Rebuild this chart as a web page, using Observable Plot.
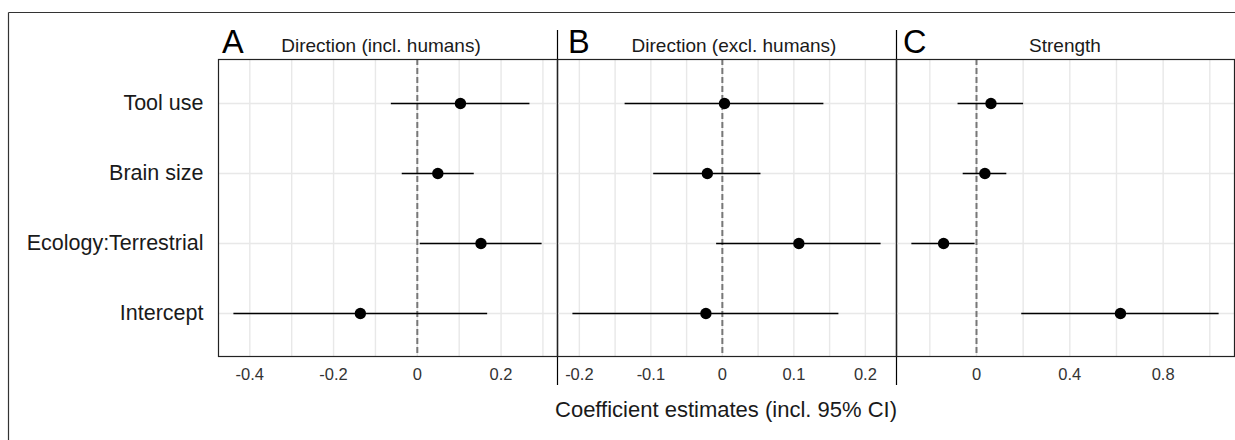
<!DOCTYPE html>
<html><head><meta charset="utf-8">
<script src="https://cdn.jsdelivr.net/npm/d3@7"></script>
<script src="https://cdn.jsdelivr.net/npm/@observablehq/plot@0.6"></script>
<style>
body{margin:0;background:#fff;font-family:"Liberation Sans",Arial,sans-serif;}
#wrap{position:relative;width:1235px;height:440px;overflow:hidden;background:#fff;}
#wrap svg{position:absolute;left:0;top:0;}
</style></head><body><div id="wrap"></div>
<script>
// ---- data ----
const terms = ["Tool use", "Brain size", "Ecology:Terrestrial", "Intercept"];
const panelLetters = ["A", "B", "C"];
const panelTitles = ["Direction (incl. humans)", "Direction (excl. humans)", "Strength"];
const xTitle = "Coefficient estimates (incl. 95% CI)";

const estA  = [0.103, 0.049, 0.152, -0.136];
const lowA  = [-0.062, -0.036, 0.007, -0.438];
const highA = [0.269, 0.136, 0.298, 0.168];

const estB  = [0.003, -0.021, 0.107, -0.023];
const lowB  = [-0.136, -0.096, -0.008, -0.209];
const highB = [0.142, 0.054, 0.222, 0.163];

const estC  = [0.062, 0.036, -0.141, 0.617];
const lowC  = [-0.079, -0.057, -0.277, 0.194];
const highC = [0.202, 0.130, -0.006, 1.040];

const ticksA = [-0.4, -0.2, 0, 0.2];
const minorA = [-0.3, -0.1, 0.1, 0.3];
const ticksB = [-0.2, -0.1, 0, 0.1, 0.2];
const minorB = [-0.15, -0.05, 0.05, 0.15];
const ticksC = [0, 0.4, 0.8];
const minorC = [-0.2, 0.2, 0.6, 1.0];

// ---- layout ----
const W = 1235, H = 440;
const pLeft = [218, 557, 896];
const pRight = [557, 896, 1234];
const pTop = 59, pBottom = 356;
const FONT = '"Liberation Sans", Arial, sans-serif';

function panel(i, est, low, high, ticks, minor) {
  const rows = terms.map((t, k) => ({term: t, est: est[k], low: low[k], high: high[k]}));
  const lo = d3.min(low), hi = d3.max(high), pad = (hi - lo) * 0.05;
  const marks = [
    Plot.ruleX(minor.concat(ticks), {stroke: "#e8e8e8", strokeWidth: 1.4}),
    Plot.ruleY(terms, {stroke: "#e8e8e8", strokeWidth: 1.4}),
    Plot.ruleX([0], {stroke: "#777", strokeWidth: 2, strokeDasharray: "6,3"}),
    Plot.ruleY(rows, {y: "term", x1: "low", x2: "high", stroke: "#000", strokeWidth: 1.5}),
    Plot.dot(rows, {x: "est", y: "term", r: 5.7, fill: "#000", stroke: "none"}),
    Plot.frame({stroke: "#222", strokeWidth: 1.2}),
    Plot.axisX({ticks, tickSize: 0, tickPadding: 12, tickFormat: d => String(d),
                fontSize: 16.5, color: "#333", label: null})
  ];
  if (i === 0) marks.push(Plot.axisY({tickSize: 0, tickPadding: 15, fontSize: 21.5,
                color: "#1a1a1a", label: null}));
  return Plot.plot({
    width: W, height: H,
    marginLeft: pLeft[i], marginRight: W - pRight[i],
    marginTop: pTop, marginBottom: H - pBottom,
    style: {background: "transparent", fontFamily: FONT, overflow: "visible"},
    x: {domain: [lo - pad, hi + pad], label: null},
    y: {type: "point", domain: terms, padding: 0.6, label: null, axis: i === 0 ? undefined : null},
    marks
  });
}

const wrap = document.getElementById("wrap");

// decoration layer (outer frame, separators, titles)
const deco = d3.create("svg").attr("width", W).attr("height", H)
  .style("font-family", FONT);
deco.append("line").attr("x1", 8.5).attr("x2", W + 2).attr("y1", 12.5).attr("y2", 12.5)
  .attr("stroke", "#333").attr("stroke-width", 1.2);
deco.append("line").attr("x1", 8.5).attr("x2", 8.5).attr("y1", 12.5).attr("y2", H + 2)
  .attr("stroke", "#333").attr("stroke-width", 1.2);
[557, 896].forEach(x => {
  deco.append("line").attr("x1", x + 0.5).attr("x2", x + 0.5).attr("y1", 30).attr("y2", 385)
    .attr("stroke", "#000").attr("stroke-width", 1.2);
});
const letterX = [222, 568, 903];
const titleX = [381, 734, 1065];
panelLetters.forEach((L, i) => {
  deco.append("text").attr("x", letterX[i]).attr("y", 53).attr("font-size", 32.5)
    .attr("fill", "#000").text(L);
  deco.append("text").attr("x", titleX[i]).attr("y", 52).attr("font-size", 19)
    .attr("text-anchor", "middle").attr("fill", "#1a1a1a").text(panelTitles[i]);
});
deco.append("text").attr("x", (pLeft[0] + pRight[2]) / 2).attr("y", 417)
  .attr("font-size", 22).attr("text-anchor", "middle").attr("fill", "#1a1a1a").text(xTitle);
wrap.appendChild(deco.node());

wrap.appendChild(panel(0, estA, lowA, highA, ticksA, minorA));
wrap.appendChild(panel(1, estB, lowB, highB, ticksB, minorB));
wrap.appendChild(panel(2, estC, lowC, highC, ticksC, minorC));
</script></body></html>
